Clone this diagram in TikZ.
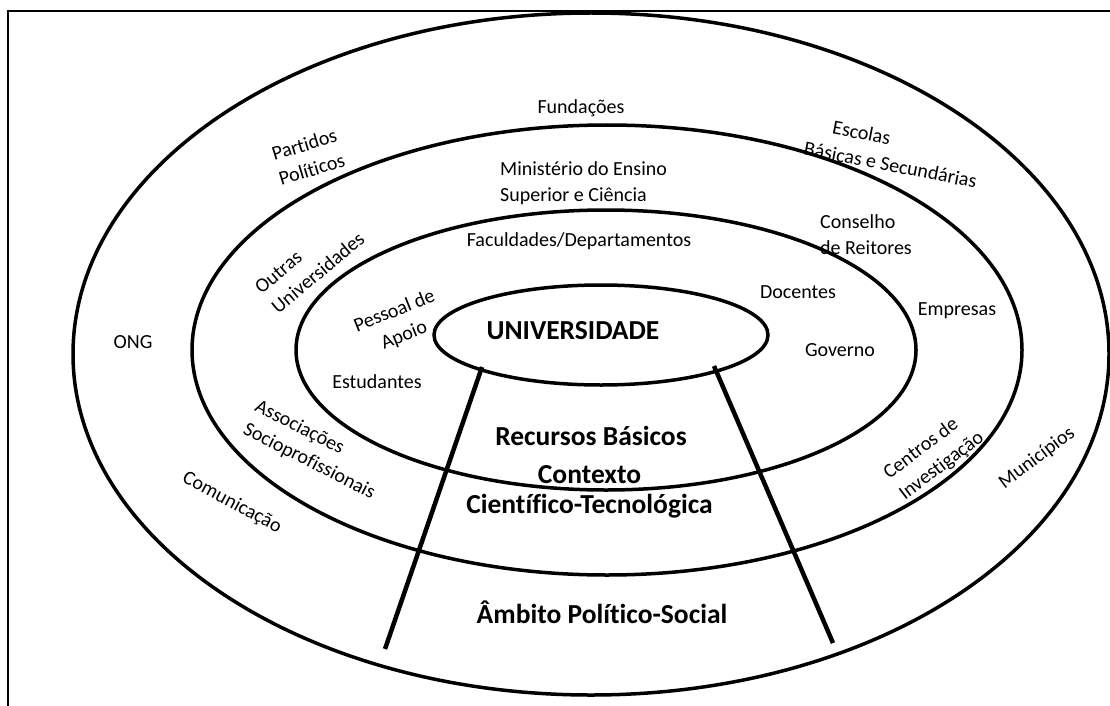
\documentclass[tikz,border=0pt]{standalone}
\usepackage{fontspec}
\setmainfont{Carlito}[Ligatures={NoCommon}]
\usetikzlibrary{shapes.geometric}
\begin{document}
\begin{tikzpicture}[x=1pt,y=-1pt,
  ring/.style={draw, ellipse, line width=3.5pt, inner sep=0pt},
  lbl/.style={font=\fontsize{20}{26}\selectfont, inner sep=0pt},
  big/.style={font=\fontsize{27.5}{30}\selectfont\bfseries, inner sep=0pt},
  spoke/.style={line width=4.5pt},
  frameline/.style={line width=2.4pt}]
\useasboundingbox (0,0) rectangle (1110,706);

% page frame
\draw[frameline] (8,706) -- (8,11) -- (1110,11);

% concentric rings
\node[ring, minimum width=1036pt, minimum height=682pt] (politico) at (591,354) {};
\node[ring, minimum width=830pt, minimum height=450pt] (cientifico) at (607,350) {};
\node[ring, minimum width=620pt, minimum height=280pt] (recursos) at (606,350) {};
\node[ring, minimum width=334pt, minimum height=100pt] (core) at (601,335) {};

% spokes leaving the core
\coordinate (sl0) at (482,367);
\coordinate (sl1) at (385,649);
\coordinate (sr0) at (714,366);
\coordinate (sr1) at (833,643);
\draw[spoke] (sl0) -- (sl1);
\draw[spoke] (sr0) -- (sr1);

% bold titles
\node[big] (tuni) at (573,331) {UNIVERSIDADE};
\node[big] (trec) at (591,436) {Recursos Básicos};
\node[big, align=center] (tcien) at (589.5,492) {Contexto\\Científico-Tecnológica};
\node[big] (tamb) at (602,612) {Âmbito Político-Social};

% outer ring
\node[lbl] (fund) at (581,108) {Fundações};
\node[lbl, align=center, rotate=17] (part) at (308,157) {Partidos\\Políticos};
\node[lbl, align=left, rotate=-11] (esc) at (893,152) {\hspace*{24pt}Escolas\\Básicas e Secundárias};
\node[lbl] (ong) at (133,342) {ONG};
\node[lbl] (emp) at (957,311) {Empresas};
\node[lbl, rotate=-28] (com) at (232,503) {Comunicação};
\node[lbl, rotate=37] (mun) at (1037,458) {Municípios};

% middle ring
\node[lbl, align=left, anchor=west] (min) at (500,183) {Ministério do Ensino\\Superior e Ciência};
\node[lbl, align=left, anchor=west] (cons) at (820,235) {Conselho\\de Reitores};
\node[lbl, align=left, rotate=40] (outr) at (309.6,263) {Outras\\Universidades};
\node[lbl, align=left, rotate=-27] (assoc) at (315,450) {Associações\\Socioprofissionais};
\node[lbl, align=left, rotate=37] (cent) at (934,455.6) {Centros de\\Investigação};

% inner ring
\node[lbl] (fac) at (579,241) {Faculdades/Departamentos};
\node[lbl, align=center, rotate=22] (pess) at (399.5,323.5) {Pessoal de\\Apoio};
\node[lbl] (estu) at (377,382) {Estudantes};
\node[lbl] (doc) at (798,292) {Docentes};
\node[lbl] (gov) at (840,350) {Governo};
\end{tikzpicture}
\end{document}
